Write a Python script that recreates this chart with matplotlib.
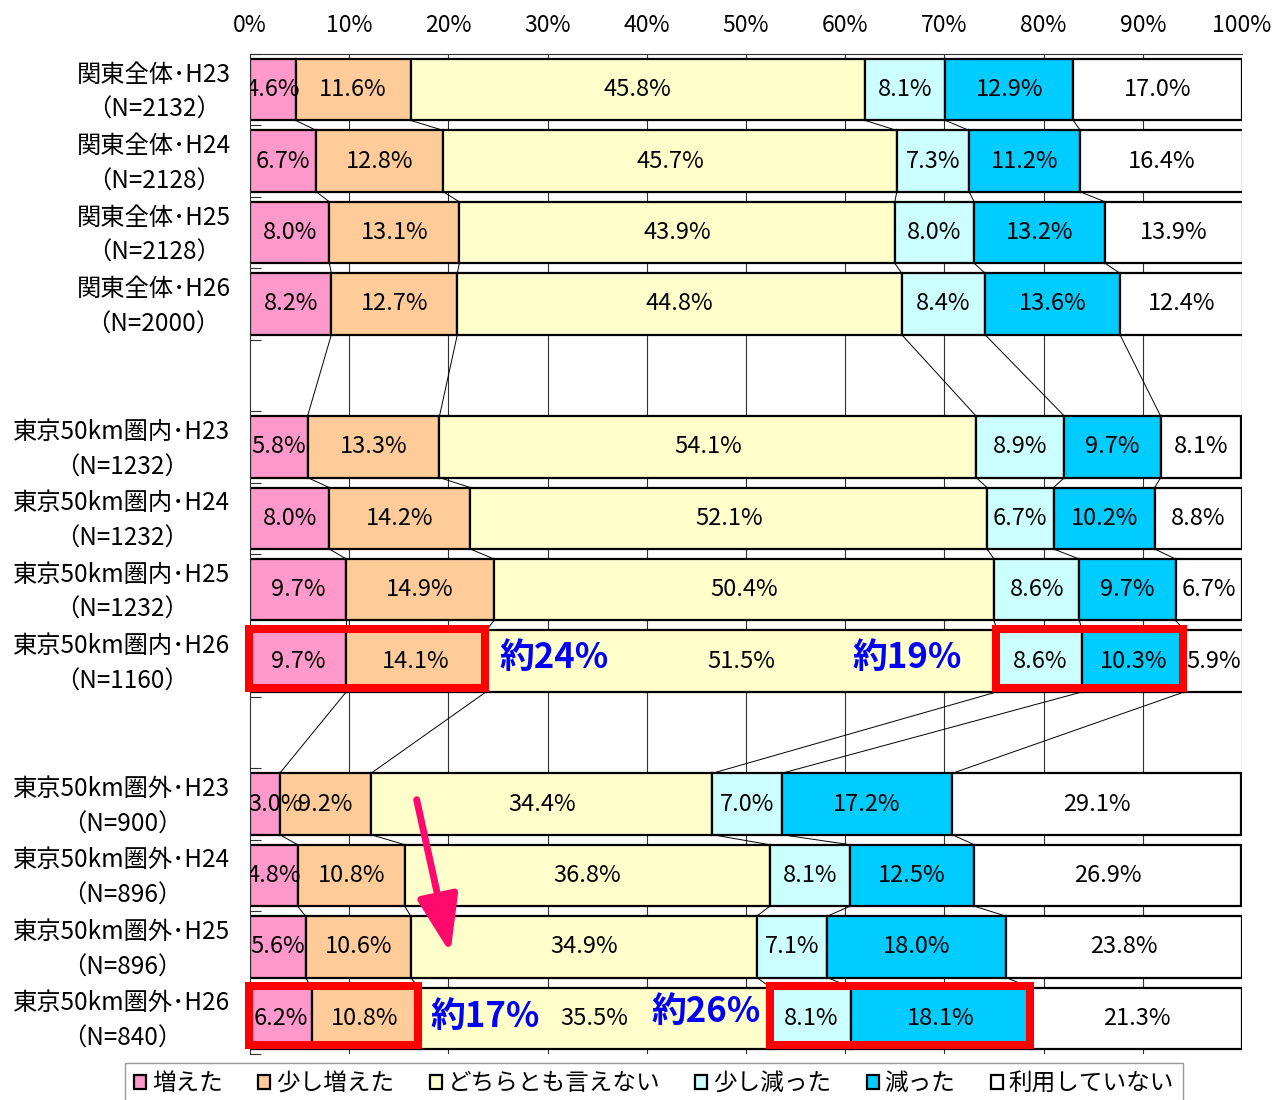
import numpy as np
import matplotlib
matplotlib.use("Agg")
import matplotlib.pyplot as plt
from matplotlib.patches import Patch, Rectangle
from matplotlib.transforms import ScaledTranslation

plt.rcParams['font.family'] = ['Noto Sans CJK JP', 'DejaVu Sans']

# ---------------- data ----------------
groups = ['関東全体', '東京50km圏内', '東京50km圏外']
years = ['H23', 'H24', 'H25', 'H26']
n_values = [[2132, 2128, 2128, 2000],
            [1232, 1232, 1232, 1160],
            [900, 896, 896, 840]]

series_names = ['増えた', '少し増えた', 'どちらとも言えない', '少し減った', '減った', '利用していない']
s_increase = [4.6, 6.7, 8.0, 8.2, 5.8, 8.0, 9.7, 9.7, 3.0, 4.8, 5.6, 6.2]
s_slight_inc = [11.6, 12.8, 13.1, 12.7, 13.3, 14.2, 14.9, 14.1, 9.2, 10.8, 10.6, 10.8]
s_neutral = [45.8, 45.7, 43.9, 44.8, 54.1, 52.1, 50.4, 51.5, 34.4, 36.8, 34.9, 35.5]
s_slight_dec = [8.1, 7.3, 8.0, 8.4, 8.9, 6.7, 8.6, 8.6, 7.0, 8.1, 7.1, 8.1]
s_decrease = [12.9, 11.2, 13.2, 13.6, 9.7, 10.2, 9.7, 10.3, 17.2, 12.5, 18.0, 18.1]
s_not_used = [17.0, 16.4, 13.9, 12.4, 8.1, 8.8, 6.7, 5.9, 29.1, 26.9, 23.8, 21.3]

callouts = ['約24%', '約19%', '約17%', '約26%']

colors = ['#FF99CC', '#FFCC99', '#FFFFCC', '#CCFFFF', '#00CCFF', '#FFFFFF']

# ---------------- layout ----------------
series = np.array([s_increase, s_slight_inc, s_neutral, s_slight_dec, s_decrease, s_not_used])
nbar = series.shape[1]
ypos = np.array([g * 5 + j for g in range(3) for j in range(4)], dtype=float)
labels = [f'{g}･{y}\n（N={n}）' for gi, g in enumerate(groups) for yi, (y, n) in enumerate(zip(years, n_values[gi]))]
h = 0.86

fig = plt.figure(figsize=(12.84, 11), dpi=100)
ax = fig.add_axes([250 / 1284, 1 - 1054 / 1100, 992 / 1284, 1000 / 1100])

ax.set_xlim(0, 100)
ax.set_ylim(13.5, -0.5)

# grid
ax.set_xticks(np.arange(0, 101, 10))
ax.set_xticklabels([f'{v}%' for v in range(0, 101, 10)], fontsize=16.5)
ax.xaxis.tick_top()
ax.tick_params(axis='x', length=0, pad=12)
for v in range(10, 101, 10):
    ax.axvline(v, color='#303030', lw=0.8, zorder=0)

lefts = np.zeros(nbar)
cums = [np.zeros(nbar)]
for k in range(series.shape[0]):
    ax.barh(ypos, series[k], left=lefts, height=h, color=colors[k],
            edgecolor='black', linewidth=1.6, zorder=2, label=series_names[k])
    for i in range(nbar):
        v = series[k, i]
        cx = lefts[i] + v / 2
        if k == 0 and v < 4:
            cx = max(cx, 2.6)
        ax.text(cx, ypos[i], f'{v:.1f}%', ha='center', va='center',
                fontsize=17, zorder=4, clip_on=True)
    lefts = lefts + series[k]
    cums.append(lefts.copy())
cums = np.array(cums)

# connector lines between consecutive bars
for i in range(nbar - 1):
    for k in range(1, series.shape[0]):
        ax.plot([cums[k, i], cums[k, i + 1]], [ypos[i] + h / 2, ypos[i + 1] - h / 2],
                color='black', lw=0.7, zorder=1)

# y labels
ax.set_yticks(ypos)
ax.set_yticklabels(labels, fontsize=17.5, multialignment='center', linespacing=1.47)
ax.tick_params(axis='y', length=0, pad=14)
shift = ScaledTranslation(0, 5 / 100, fig.dpi_scale_trans)
for lab in ax.get_yticklabels():
    lab.set_transform(lab.get_transform() + shift)
ax.set_yticks(np.arange(-0.5, 14, 1), minor=True)
ax.tick_params(axis='y', which='minor', direction='in', length=8, width=0.8, color='#303030')

for side in ['bottom', 'right']:
    ax.spines[side].set_visible(False)
ax.spines['left'].set_color('#303030')
ax.spines['top'].set_color('#303030')
ax.spines['left'].set_linewidth(0.8)
ax.spines['top'].set_linewidth(0.8)

# red highlight boxes on H26 bars of group 2 and 3
for i in [7, 11]:
    for (k0, k1) in [(0, 2), (3, 5)]:
        x0 = cums[k0, i]
        x1 = cums[k1, i]
        ax.add_patch(Rectangle((x0 - 0.1, ypos[i] - h / 2 - 0.02), x1 - x0, h - 0.03,
                               fill=False, edgecolor='#FF0000', linewidth=5.8, zorder=5,
                               clip_on=False, joinstyle='miter'))

# blue callouts
kw = dict(color='#0000FF', fontsize=25, fontweight='bold', ha='center', va='center', zorder=6)
ax.text(30.6, 7.95, callouts[0], **kw)
ax.text(66.2, 7.95, callouts[1], **kw)
ax.text(23.7, 12.97, callouts[2], **kw)
ax.text(46.0, 12.9, callouts[3], **kw)

# pink arrow
ax.annotate('', xy=(20.2, 12.09), xytext=(16.8, 9.94),
            arrowprops=dict(arrowstyle='-|>,head_length=1.4,head_width=0.5', color='#FF0A6C',
                            lw=5, shrinkA=0, shrinkB=0, mutation_scale=25),
            zorder=7)

# legend
handles = [Patch(facecolor=c, edgecolor='black', linewidth=1.6) for c in colors]
leg = fig.legend(handles, series_names, loc='upper left',
                 bbox_to_anchor=(125 / 1284, 1 - 1063 / 1100), ncol=6, fontsize=17,
                 frameon=True, fancybox=False, edgecolor='#808080',
                 handlelength=0.5, handleheight=0.5, handletextpad=0.25,
                 columnspacing=1.5, borderpad=0.4, borderaxespad=0)
leg.get_frame().set_linewidth(1.0)

fig.savefig('out.png', dpi=100)
